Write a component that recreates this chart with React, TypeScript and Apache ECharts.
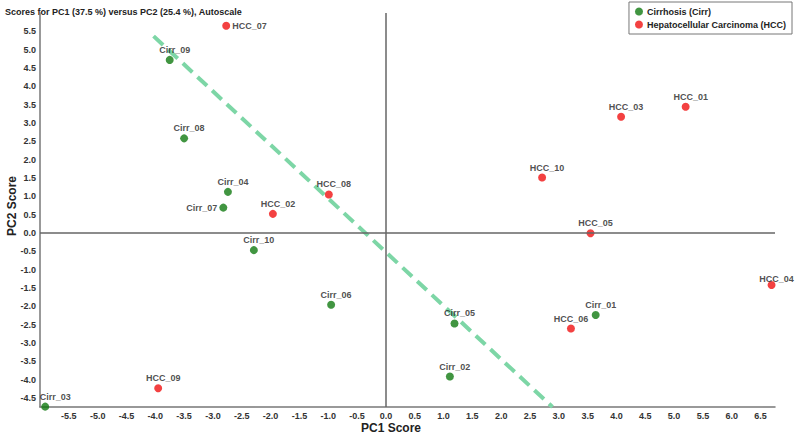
import React, { useEffect, useRef } from 'react';
import * as echarts from 'echarts';

const cirrNames = ['Cirr_01', 'Cirr_02', 'Cirr_03', 'Cirr_04', 'Cirr_05', 'Cirr_06', 'Cirr_07', 'Cirr_08', 'Cirr_09', 'Cirr_10'];
const cirrPC1 = [3.64, 1.11, -5.91, -2.74, 1.19, -0.95, -2.82, -3.5, -3.75, -2.29];
const cirrPC2 = [-2.24, -3.92, -4.74, 1.12, -2.47, -1.96, 0.69, 2.58, 4.72, -0.47];

const hccNames = ['HCC_01', 'HCC_02', 'HCC_03', 'HCC_04', 'HCC_05', 'HCC_06', 'HCC_07', 'HCC_08', 'HCC_09', 'HCC_10'];
const hccPC1 = [5.2, -1.96, 4.08, 6.69, 3.55, 3.21, -2.77, -0.99, -3.95, 2.71];
const hccPC2 = [3.44, 0.52, 3.17, -1.42, -0.01, -2.61, 5.65, 1.05, -4.24, 1.51];

const lineX = [-4.03, 2.89];
const lineY = [5.37, -4.75];

const seriesNames = ['Cirrhosis (Cirr)', 'Hepatocellular Carcinoma (HCC)'];
const titleText = 'Scores for PC1 (37.5 %) versus PC2 (25.4 %), Autoscale';

export default function App() {
  const ref = useRef<HTMLDivElement>(null);
  useEffect(() => {
    const chart = echarts.init(ref.current!, null, { renderer: 'svg' });
    const font = "'Liberation Sans', Arial, Helvetica, sans-serif";
    const labelOverrides: Record<string, any> = {
      HCC_07: { position: 'right', distance: 2, offset: [0, 0] },
      Cirr_07: { position: 'left', distance: 2, offset: [0, 0] },
      Cirr_03: { offset: [10, 0] },
      HCC_06: { offset: [0, 0] },
      HCC_04: { offset: [5, 4] },
    };
    const build = (names: string[], xs: number[], ys: number[]) =>
      names.map((n, i) => {
        const item: any = { name: n, value: [xs[i], ys[i]] };
        if (labelOverrides[n]) item.label = labelOverrides[n];
        return item;
      });
    const halfFmt = (lo: number, hi: number) => (v: number) => {
      const r = Math.round(v * 2) / 2;
      if (Math.abs(v - r) > 1e-6) return '';
      if (v < lo - 1e-6 || v > hi + 1e-6) return '';
      return v.toFixed(1);
    };
    const axisLabel = {
      fontSize: 9,
      fontWeight: 'bold',
      color: '#333',
      fontFamily: font,
      margin: 4,
    };
    const scatterLabel = {
      show: true,
      formatter: '{b}',
      position: 'top',
      distance: 1.5,
      offset: [5, 0],
      fontSize: 9,
      fontWeight: 'bold',
      color: '#222',
      fontFamily: font,
    };
    chart.setOption({
      animation: false,
      backgroundColor: '#ffffff',
      textStyle: { fontFamily: font },
      grid: { left: 40, right: 25, top: 13, bottom: 31, containLabel: false },
      legend: {
        data: seriesNames,
        orient: 'vertical',
        right: 8,
        top: 2,
        padding: [5, 6, 5, 6],
        itemGap: 4,
        itemWidth: 8,
        itemHeight: 8,
        icon: 'circle',
        borderColor: '#777',
        borderWidth: 1,
        textStyle: { fontSize: 9, fontWeight: 'bold', color: '#222', fontFamily: font, padding: [0, 0, 0, -1] },
      },
      xAxis: {
        type: 'value',
        min: -6,
        max: 6.75,
        interval: 0.25,
        axisLine: { show: true, onZero: false, lineStyle: { color: '#777', width: 1.5 } },
        axisTick: { show: false },
        splitLine: { show: false },
        axisLabel: { ...axisLabel, formatter: halfFmt(-5.5, 6.5) },
      },
      yAxis: {
        type: 'value',
        min: -4.75,
        max: 6,
        interval: 0.25,
        axisLine: { show: true, onZero: false, lineStyle: { color: '#777', width: 1.5 } },
        axisTick: { show: false },
        splitLine: { show: false },
        axisLabel: { ...axisLabel, formatter: halfFmt(-4.5, 5.5) },
      },
      graphic: [
        {
          type: 'text',
          left: 5,
          top: 7,
          style: { text: titleText, font: `bold 9px ${font}`, fill: '#222' },
        },
        {
          type: 'text',
          x: 391,
          y: 428,
          style: { text: 'PC1 Score', font: `bold 12px ${font}`, fill: '#222', align: 'center', verticalAlign: 'middle' },
        },
        {
          type: 'text',
          x: 12,
          y: 206,
          rotation: Math.PI / 2,
          style: { text: 'PC2 Score', font: `bold 12px ${font}`, fill: '#222', align: 'center', verticalAlign: 'middle' },
        },
      ],
      series: [
        {
          type: 'line',
          name: 'divider',
          data: lineX.map((x, i) => [x, lineY[i]]),
          symbol: 'none',
          z: 1,
          lineStyle: { color: '#7dd6a6', width: 4, type: [13, 7] },
          silent: true,
          markLine: {
            silent: true,
            symbol: 'none',
            label: { show: false },
            lineStyle: { color: '#666', width: 1.5, type: 'solid' },
            data: [{ xAxis: 0 }, { yAxis: 0 }],
          },
        },
        {
          type: 'scatter',
          name: seriesNames[0],
          data: build(cirrNames, cirrPC1, cirrPC2),
          symbol: 'circle',
          symbolSize: 8,
          z: 3,
          itemStyle: { color: '#127a12' },
          label: scatterLabel,
        },
        {
          type: 'scatter',
          name: seriesNames[1],
          data: build(hccNames, hccPC1, hccPC2),
          symbol: 'circle',
          symbolSize: 8,
          z: 3,
          itemStyle: { color: '#f01212' },
          label: scatterLabel,
        },
      ],
    });
    return () => chart.dispose();
  }, []);
  return (
    <div
      ref={ref}
      style={{ position: 'fixed', left: 0, top: 0, width: 800, height: 438, background: '#fff' }}
    />
  );
}
